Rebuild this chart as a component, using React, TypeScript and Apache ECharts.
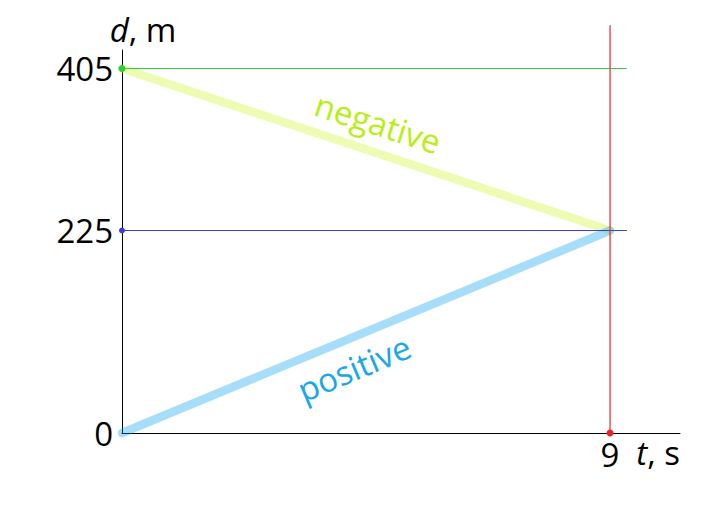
import React, { useEffect, useRef } from "react";
import * as echarts from "echarts";

const yTicks = [0, 225, 405];
const xTicks = [9];
const positiveLine = [[0, 0], [9, 225]];
const negativeLine = [[0, 405], [9, 225]];
const level405 = [[0, 405], [9.31, 405]];
const level225 = [[0, 225], [9.31, 225]];
const timeLine = [[9, 0], [9, 453]];

const FONT = "Open Sans";
const FS = 33;

export default function App() {
  const ref = useRef<HTMLDivElement>(null);
  useEffect(() => {
    const chart = echarts.init(ref.current!, null, { renderer: "svg" });
    const option: any = {
      animation: false,
      grid: { left: 122, right: 31, top: 50, bottom: 81 },
      xAxis: {
        type: "value",
        min: 0,
        max: 10.29,
        interval: 9,
        splitLine: { show: false },
        axisTick: { show: false },
        axisLine: { lineStyle: { color: "#000", width: 1 } },
        axisLabel: {
          formatter: (v: number) => (xTicks.includes(v) ? String(v) : ""),
          color: "#000",
          fontSize: FS,
          fontFamily: FONT,
          margin: 5,
          showMinLabel: true,
          showMaxLabel: false,
        },
        name: "{i|t}, s",
        nameLocation: "end",
        nameGap: 0,
        nameTextStyle: {
          align: "right",
          verticalAlign: "top",
          padding: [3, 0, 0, 0],
          fontSize: FS,
          fontFamily: FONT,
          color: "#000",
          rich: { i: { fontStyle: "italic", fontSize: FS, fontFamily: FONT, color: "#000" } },
        },
      },
      yAxis: {
        type: "value",
        min: 0,
        max: 425.6,
        interval: 45,
        splitLine: { show: false },
        axisTick: { show: false },
        axisLine: { show: true, lineStyle: { color: "#000", width: 1 } },
        axisLabel: {
          formatter: (v: number) => (yTicks.includes(v) ? String(v) : ""),
          color: "#000",
          fontSize: FS,
          fontFamily: FONT,
          margin: 9,
          showMaxLabel: false,
        },
        name: "{i|d}, m",
        nameLocation: "end",
        nameGap: 4,
        nameTextStyle: {
          align: "center",
          padding: [0, 0, 0, 42],
          fontSize: FS,
          fontFamily: FONT,
          color: "#000",
          rich: { i: { fontStyle: "italic", fontSize: FS, fontFamily: FONT, color: "#000" } },
        },
      },
      series: [
        {
          type: "line",
          data: level405,
          symbol: "circle",
          symbolSize: (v: number[]) => (v[0] === 0 ? 7 : 0),
          itemStyle: { color: "#2ecc40" },
          lineStyle: { color: "#2ecc40", width: 1 },
          clip: false,
          z: 3,
        },
        {
          type: "line",
          data: level225,
          symbol: "circle",
          symbolSize: (v: number[]) => (v[0] === 0 ? 6 : 0),
          itemStyle: { color: "#3b3bdd" },
          lineStyle: { color: "#3b3bdd", width: 1 },
          clip: false,
          z: 3,
        },
        {
          type: "line",
          data: timeLine,
          symbol: "circle",
          symbolSize: (v: number[]) => (v[1] === 0 ? 7 : 0),
          itemStyle: { color: "#ee2222" },
          lineStyle: { color: "#ee2222", width: 1.2 },
          clip: false,
          z: 4,
        },
        {
          type: "line",
          data: negativeLine,
          symbol: "none",
          lineStyle: { color: "rgba(200,245,20,0.33)", width: 8.5, cap: "round" },
          clip: false,
          z: 2,
        },
        {
          type: "line",
          data: positiveLine,
          symbol: "none",
          lineStyle: { color: "rgba(0,160,240,0.35)", width: 8.5, cap: "round" },
          clip: false,
          z: 2,
        },
      ],
      graphic: [
        {
          type: "text",
          x: 378,
          y: 123,
          rotation: -0.31,
          style: {
            text: "negative",
            fill: "#b8ee14",
            fontSize: FS,
            fontFamily: FONT,
            align: "center",
            verticalAlign: "middle",
          },
        },
        {
          type: "text",
          x: 354,
          y: 368,
          rotation: 0.4,
          style: {
            text: "positive",
            fill: "#1aa6ec",
            fontSize: FS,
            fontFamily: FONT,
            align: "center",
            verticalAlign: "middle",
          },
        },
      ],
    };
    chart.setOption(option);
    return () => chart.dispose();
  }, []);
  return <div ref={ref} style={{ width: 711, height: 514, position: "absolute", left: 0, top: 0 }} />;
}
